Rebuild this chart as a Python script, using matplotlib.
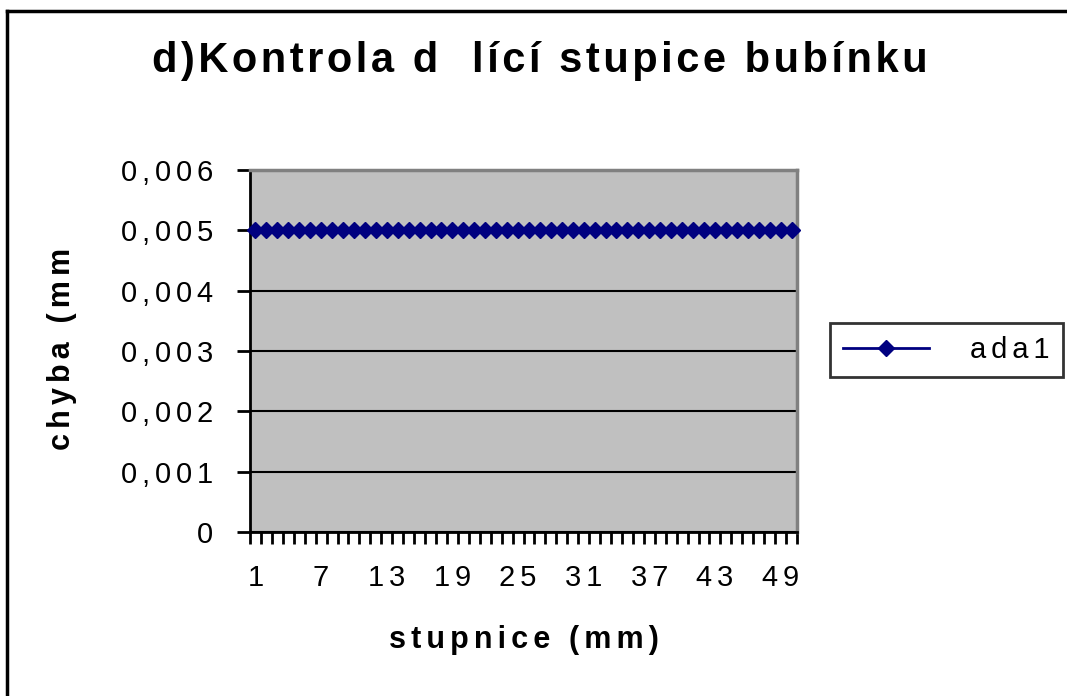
import numpy as np
import matplotlib.pyplot as plt
from matplotlib.lines import Line2D
from matplotlib.patches import Rectangle

plt.rcParams['font.family'] = ['Liberation Sans', 'DejaVu Sans']

# data: stupnice 1..50, chyba konstantni 0,005
stupnice = list(range(1, 51))
chyba = [0.005] * 50
yticks = [0, 0.001, 0.002, 0.003, 0.004, 0.005, 0.006]
ytick_labels = ['0', '0,001', '0,002', '0,003', '0,004', '0,005', '0,006']
xlabels_step = 6

WIDE = '\u2006'    # six-per-em space
NARROW = '\u200a'  # hair space


def spaced(s, sep=WIDE):
    # wide letter spacing like the old Excel rendering
    return sep.join(s)


W, H = 1067, 696
fig = plt.figure(figsize=(W / 100, H / 100), dpi=100)
fig.patch.set_facecolor('white')

ax = fig.add_axes([250 / W, 1 - 532 / H, 547 / W, 362 / H])
ax.set_facecolor('#C0C0C0')

x = np.arange(len(stupnice))
ax.plot(x, chyba, color='#000080', lw=2, marker='D', markersize=8.5,
        markerfacecolor='#000080', markeredgecolor='#000080', label=spaced('ada1'),
        clip_on=False, zorder=5)

ax.set_xlim(-0.5, len(stupnice) - 0.5)
ax.set_ylim(0, 0.006)

# y axis
ax.set_yticks(yticks)
ax.set_yticklabels([spaced(t) for t in ytick_labels], fontsize=21)
ax.yaxis.grid(True, color='black', lw=1.5)
ax.set_axisbelow(True)
ax.tick_params(axis='y', direction='out', length=9.4, width=2, pad=17)

# x axis: ticks between categories, labels every 6
ax.set_xticks(x[::xlabels_step])
ax.set_xticklabels([spaced(str(s)) for s in stupnice[::xlabels_step]], fontsize=21)
ax.set_xticks(np.arange(-0.5, len(stupnice)), minor=True)
ax.tick_params(axis='x', which='major', length=0, pad=23)
ax.tick_params(axis='x', which='minor', direction='out', length=8.6, width=2)

for s in ['left', 'bottom']:
    ax.spines[s].set_color('black')
    ax.spines[s].set_linewidth(2)
for s in ['top', 'right']:
    ax.spines[s].set_color('#808080')
    ax.spines[s].set_linewidth(2.5)

ax.set_xlabel(spaced('stupnice (mm)'), fontsize=22, fontweight='bold', labelpad=24)

# y label, cut off at the top like in the original
t = fig.text(62 / W, 1 - 341 / H, spaced('chyba (mm)'), rotation=90, fontsize=22,
             fontweight='bold', ha='center', va='center')
clip = Rectangle((0, 0), 1, 1 - 245 / H, transform=fig.transFigure, visible=False)
fig.add_artist(clip)
t.set_clip_path(clip)

fig.text(540 / W, 1 - 61 / H, spaced('d)Kontrola d  lící stupice bubínku', NARROW),
         fontsize=30, fontweight='bold', ha='center', va='center')

leg = ax.legend(loc='center left', bbox_to_anchor=(830 / W, 1 - 350 / H),
                bbox_transform=fig.transFigure, fontsize=21, frameon=True,
                fancybox=False, edgecolor='black', handlelength=2.95,
                handletextpad=1.4, borderpad=0.45, borderaxespad=0)
leg.get_frame().set_linewidth(2)

# outer chart frame
fig.add_artist(Line2D([7 / W, 7 / W], [0, 1 - 11 / H], color='black', lw=2.5,
                      transform=fig.transFigure))
fig.add_artist(Line2D([7 / W, 1], [1 - 11 / H, 1 - 11 / H], color='black', lw=2.5,
                      transform=fig.transFigure))

fig.savefig('out.png', dpi=100)
